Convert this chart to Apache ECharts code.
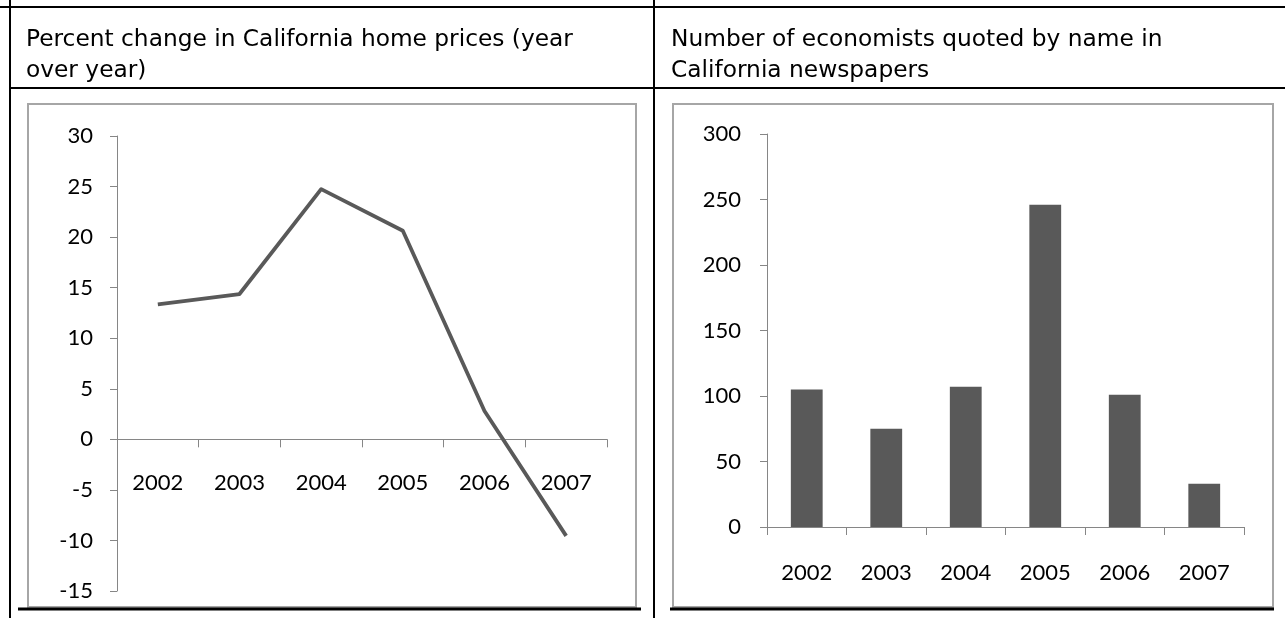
<!DOCTYPE html>
<html>
<head>
<meta charset="utf-8">
<script src="https://cdn.jsdelivr.net/npm/echarts@6/dist/echarts.min.js"></script>
<style>
  html, body { margin: 0; padding: 0; background: #ffffff; }
  #chart { width: 1285px; height: 618px; }
</style>
</head>
<body>
<div id="chart"></div>
<script>
// ---- data ----
var years = ['2002', '2003', '2004', '2005', '2006', '2007'];
var priceChange = [13.35, 14.37, 24.75, 20.63, 2.8, -9.55];
var economistsQuoted = [105, 75, 107, 246, 101, 33];
var leftTitle = 'Percent change in California home prices (year\nover year)';
var rightTitle = 'Number of economists quoted by name in\nCalifornia newspapers';
var leftMin = -15, leftMax = 30, leftStep = 5;
var rightMin = 0, rightMax = 300, rightStep = 50;

var tickFont = 'Lato';
var titleFont = 'DejaVu Sans';
var axisGray = '#868686';
var markGray = '#595959';

// grid geometry (layout only)
var g0 = { left: 117, top: 136, width: 490, height: 455 };
var g1 = { left: 767, top: 134, width: 477, height: 393 };
// place the left category axis on the zero line of its value axis
var zeroOffset = -g0.height * (0 - leftMin) / (leftMax - leftMin);

var chart = echarts.init(document.getElementById('chart'), null, { renderer: 'canvas' });

function lineEl(x1, y1, x2, y2, w, c) {
  return { type: 'line', silent: true, z: 10,
    shape: { x1: x1, y1: y1, x2: x2, y2: y2 },
    style: { stroke: c || '#000', lineWidth: w } };
}
function boxEl(x, y, w, h) {
  return { type: 'rect', silent: true, z: -10,
    shape: { x: x, y: y, width: w, height: h },
    style: { fill: 'none', stroke: '#a6a6a6', lineWidth: 2 } };
}

var titleStyle = { fontFamily: titleFont, fontSize: 23.3, lineHeight: 30.5, fontWeight: 'normal', color: '#000' };

chart.setOption({
  animation: false,
  backgroundColor: '#ffffff',
  title: [
    { text: leftTitle, left: 21, top: 20, textStyle: titleStyle },
    { text: rightTitle, left: 666, top: 20, textStyle: titleStyle }
  ],
  graphic: [
    boxEl(28, 104, 608, 503),
    boxEl(673, 104, 600, 503),
    lineEl(0, 7, 1285, 7, 2),
    lineEl(10, 0, 10, 618, 2),
    lineEl(654, 0, 654, 618, 2),
    lineEl(9, 88, 1285, 88, 2),
    lineEl(18, 609, 641, 609, 3),
    lineEl(670, 609, 1274, 609, 3)
  ],
  grid: [ g0, g1 ],
  xAxis: [
    { type: 'category', gridIndex: 0, data: years, boundaryGap: true,
      position: 'bottom', offset: zeroOffset,
      axisLine: { show: true, onZero: false, lineStyle: { color: axisGray, width: 1 } },
      axisTick: { show: true, length: 8, inside: false, lineStyle: { color: axisGray } },
      axisLabel: { color: '#000', fontFamily: tickFont, fontSize: 22, margin: 33 },
      splitLine: { show: false } },
    { type: 'category', gridIndex: 1, data: years, boundaryGap: true,
      axisLine: { show: true, lineStyle: { color: axisGray, width: 1 } },
      axisTick: { show: true, length: 8, inside: false, lineStyle: { color: axisGray } },
      axisLabel: { color: '#000', fontFamily: tickFont, fontSize: 22, margin: 35 },
      splitLine: { show: false } }
  ],
  yAxis: [
    { type: 'value', gridIndex: 0, min: leftMin, max: leftMax, interval: leftStep,
      axisLine: { show: true, lineStyle: { color: axisGray, width: 1 } },
      axisTick: { show: true, length: 7, lineStyle: { color: axisGray } },
      axisLabel: { color: '#000', fontFamily: tickFont, fontSize: 22, margin: 24 },
      splitLine: { show: false } },
    { type: 'value', gridIndex: 1, min: rightMin, max: rightMax, interval: rightStep,
      axisLine: { show: true, lineStyle: { color: axisGray, width: 1 } },
      axisTick: { show: true, length: 7, lineStyle: { color: axisGray } },
      axisLabel: { color: '#000', fontFamily: tickFont, fontSize: 22, margin: 26 },
      splitLine: { show: false } }
  ],
  series: [
    { type: 'line', xAxisIndex: 0, yAxisIndex: 0, data: priceChange,
      showSymbol: false, symbol: 'none', smooth: false,
      lineStyle: { color: markGray, width: 3.8, join: 'round' }, z: 5 },
    { type: 'bar', xAxisIndex: 1, yAxisIndex: 1, data: economistsQuoted,
      barCategoryGap: '60%', itemStyle: { color: markGray }, z: 5 }
  ]
});
</script>
</body>
</html>
